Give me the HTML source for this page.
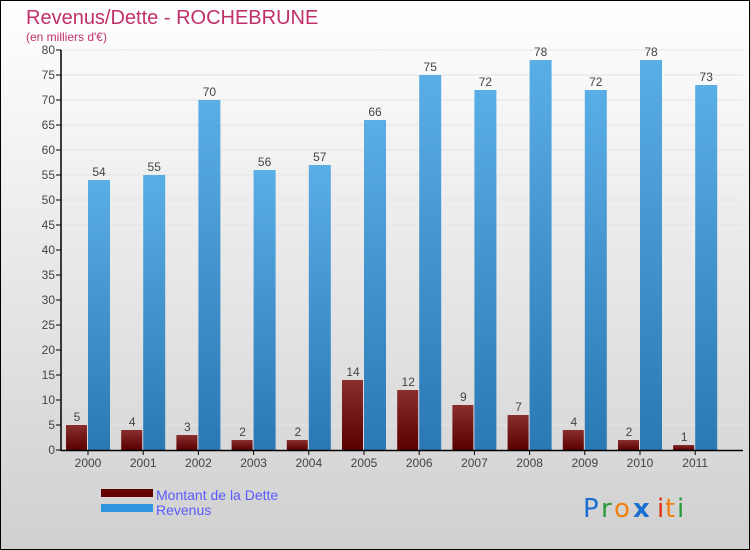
<!DOCTYPE html>
<html><head><meta charset="utf-8"><style>
html,body{margin:0;padding:0;}
body{width:750px;height:550px;overflow:hidden;font-family:"Liberation Sans",sans-serif;}
#wrap{position:relative;width:748px;height:548px;border:1px solid #000;background:linear-gradient(#ffffff,#d0d0d0);}
</style></head><body>
<div id="wrap">
<svg id="chart" width="748" height="548" style="position:absolute;left:0;top:0">
<defs>
<linearGradient id="gDette" x1="0" y1="0" x2="0" y2="1"><stop offset="0" stop-color="#8a2e2e"/><stop offset="1" stop-color="#5a0000"/></linearGradient>
<linearGradient id="gRev" x1="0" y1="0" x2="0" y2="1"><stop offset="0" stop-color="#5aaee6"/><stop offset="1" stop-color="#2a78b4"/></linearGradient>
</defs>
<text x="25" y="23" font-size="20" fill="#c0306a">Revenus/Dette - ROCHEBRUNE</text>
<text x="25" y="40" font-size="12" fill="#c0306a">(en milliers d'€)</text>
<g id="plot"></g>
<g>
<rect x="100" y="488" width="52" height="8" fill="#640000"/>
<text x="155" y="499" font-size="14" fill="#5a5aff">Montant de la Dette</text>
<rect x="100" y="503" width="52" height="8" fill="#2f95dc"/>
<text x="155" y="514" font-size="14" fill="#5a5aff">Revenus</text>
</g>
<g font-size="26" font-family="'DejaVu Sans',sans-serif">
<text x="582" y="516" fill="#1a6fd0">P</text><text x="600" y="516" fill="#2a9a3a">r</text><text x="613" y="516" fill="#f08010">o</text><text x="632" y="516" fill="#1a6fd0" font-weight="bold">x</text><text x="656" y="516" fill="#e03010">i</text><text x="664" y="516" fill="#f08010">t</text><text x="676" y="516" fill="#2a9a3a">i</text>
</g>
</svg>
</div>
<script>
const years=["2000","2001","2002","2003","2004","2005","2006","2007","2008","2009","2010","2011"];
const dette=[5,4,3,2,2,14,12,9,7,4,2,1];
const revenus=[54,55,70,56,57,66,75,72,78,72,78,73];
const yTicks=[0,5,10,15,20,25,30,35,40,45,50,55,60,65,70,75,80];
const NS="http://www.w3.org/2000/svg";
const g=document.getElementById('plot');
const y0=449,yTop=49,yMax=80,x0=86,step=55.2,bw=22;
function Y(v){return y0-(v/yMax)*(y0-yTop);}
function X(i){return x0+i*step;}
function mk(t,a){const e=document.createElementNS(NS,t);for(const k in a)e.setAttribute(k,a[k]);g.appendChild(e);return e;}
yTicks.forEach(v=>{
 const gl=mk('line',{x1:60,x2:742,y1:Y(v),y2:Y(v),stroke:'#e4e4e4','stroke-width':1});
 
 
 const tk=mk('line',{x1:55,x2:60,y1:Y(v),y2:Y(v),stroke:'#000'});
 
 
 const t=mk('text',{x:54,y:Y(v)+4,'font-size':12,fill:'#444','text-anchor':'end'});
 t.textContent=v;
 
 
});
years.forEach((yr,i)=>{
 const cx=X(i);
 const b1=mk('rect',{x:cx-bw+1,y:Y(dette[i]),width:bw-1,height:y0-Y(dette[i]),fill:'url(#gDette)'});
 
 
 const b2=mk('rect',{x:cx+1,y:Y(revenus[i]),width:bw,height:y0-Y(revenus[i]),fill:'url(#gRev)'});
 
 
 const l1=mk('text',{x:cx-bw/2+1,y:Y(dette[i])-4,'font-size':12,fill:'#444','text-anchor':'middle'});
 l1.textContent=dette[i];
 
 
 const l2=mk('text',{x:cx+bw/2+1,y:Y(revenus[i])-4,'font-size':12,fill:'#444','text-anchor':'middle'});
 l2.textContent=revenus[i];
 
 
 const tk=mk('line',{x1:cx+1,x2:cx+1,y1:y0,y2:y0+5,stroke:'#000'});
 
 
 const xl=mk('text',{x:cx+1,y:466,'font-size':12,fill:'#444','text-anchor':'middle'});
 xl.textContent=yr;
 
 
});
const ya=mk('line',{x1:60,x2:60,y1:yTop,y2:y0+1,stroke:'#000','stroke-width':1.5});


const xa=mk('line',{x1:60,x2:742,y1:y0+0.5,y2:y0+0.5,stroke:'#000','stroke-width':1.5});


</script>
</body></html>
